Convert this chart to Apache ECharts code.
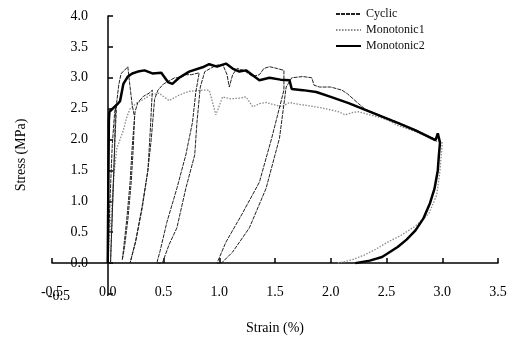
<!DOCTYPE html>
<html>
<head>
<meta charset="utf-8">
<script src="https://cdn.jsdelivr.net/npm/echarts@6/dist/echarts.min.js"></script>
<style>
  html, body { margin: 0; padding: 0; background: #fff; }
  #chart { width: 513px; height: 343px; }
</style>
</head>
<body>
<div id="chart"></div>
<script>
// Tick labels
var xTicks = [-0.5, 0, 0.5, 1, 1.5, 2, 2.5, 3, 3.5];
var yTicks = [-0.5, 0, 0.5, 1, 1.5, 2, 2.5, 3, 3.5, 4];

var seriesNames = ['Cyclic', 'Monotonic1', 'Monotonic2'];

// Cyclic test (strain %, stress MPa)
var cyclicStrain = [0, 0.02, 0.04, 0.06, 0.07, 0.06, 0.045, 0.03, 0.025,
  0.035, 0.05, 0.065, 0.08, 0.1, 0.12, 0.15, 0.18, 0.2, 0.22, 0.24,
  0.23, 0.21, 0.18, 0.15, 0.13,
  0.14, 0.17, 0.2, 0.22, 0.245, 0.27, 0.32, 0.37, 0.4,
  0.38, 0.36, 0.31, 0.25, 0.2,
  0.25, 0.31, 0.36, 0.39, 0.42, 0.45, 0.5, 0.55, 0.6, 0.65, 0.7, 0.75, 0.82,
  0.79, 0.76, 0.7, 0.62, 0.53, 0.47, 0.44,
  0.49, 0.55, 0.62, 0.7, 0.78, 0.8, 0.83, 0.87, 0.92, 0.97, 1.03, 1.07, 1.09, 1.12, 1.16, 1.22, 1.3, 1.36, 1.4, 1.45, 1.52, 1.58,
  1.58, 1.47, 1.36, 1.2, 1.06, 0.98,
  1.02, 1.12, 1.27, 1.42, 1.54, 1.6, 1.65, 1.75, 1.83, 1.85, 1.9, 2.0, 2.1, 2.15, 2.25,
  2.31, 2.46, 2.6, 2.76, 2.94];
var cyclicStress = [0, 1.0, 1.9, 2.4, 2.55, 1.8, 1.0, 0.3, 0,
  0.5, 1.3, 2.0, 2.6, 2.9, 3.07, 3.12, 3.18, 2.85, 2.55, 2.37,
  1.9, 1.3, 0.7, 0.25, 0.05,
  0.2, 0.7, 1.3, 1.9, 2.45, 2.6, 2.7, 2.75, 2.8,
  2.1, 1.5, 0.9, 0.35, 0,
  0.35, 0.94, 1.5, 2.0, 2.65, 2.8, 2.9, 2.95, 3.0, 3.0, 3.05, 3.05, 3.08,
  2.77, 2.28, 1.75, 1.21, 0.66, 0.2, 0,
  0, 0.3, 0.57, 1.21, 1.75, 2.28, 2.85, 3.1, 3.15, 3.2, 3.22, 3.05, 2.85, 3.05, 3.15, 3.12, 3.02, 3.05, 3.15, 3.18, 3.15, 3.12,
  2.8, 2.02, 1.31, 0.78, 0.34, 0,
  0, 0.18, 0.57, 1.21, 2.02, 2.85, 3.0, 3.02, 3.0, 2.88, 2.85, 2.85, 2.8, 2.74, 2.58,
  2.49, 2.38, 2.28, 2.16, 2.0];

// Monotonic test 1
var mono1Strain = [0, 0.03, 0.06, 0.08, 0.1, 0.12, 0.14, 0.17, 0.2, 0.26, 0.32, 0.38, 0.46, 0.55, 0.64, 0.73, 0.85, 0.91,
  0.97, 1.03, 1.1, 1.18, 1.24, 1.3, 1.36, 1.42, 1.5, 1.56, 1.63, 1.71, 1.8, 1.9, 2.0, 2.07, 2.13, 2.2, 2.25, 2.35, 2.46,
  2.53, 2.6, 2.68, 2.76, 2.85, 2.94, 3.0,
  2.98, 2.95, 2.88, 2.76, 2.63, 2.5, 2.4, 2.3, 2.2, 2.12, 2.05];
var mono1Stress = [0, 0.8, 1.5, 1.85, 1.95, 2.05, 2.15, 2.36, 2.5, 2.59, 2.65, 2.72, 2.75, 2.63, 2.72, 2.78, 2.8, 2.8,
  2.4, 2.69, 2.66, 2.67, 2.69, 2.53, 2.58, 2.6, 2.56, 2.53, 2.6, 2.57, 2.55, 2.52, 2.48, 2.45, 2.4, 2.44, 2.45, 2.4, 2.35,
  2.3, 2.23, 2.18, 2.13, 2.06, 1.97, 1.95,
  1.5, 1.1, 0.8, 0.6, 0.45, 0.33, 0.22, 0.13, 0.06, 0.02, 0];

// Monotonic test 2
var mono2Strain = [0, 0.005, 0.01, 0.015, 0.03, 0.06, 0.09, 0.11, 0.14, 0.18, 0.22, 0.27, 0.33, 0.4, 0.48, 0.54, 0.58, 0.64,
  0.73, 0.85, 0.91, 0.98, 1.06, 1.12, 1.18, 1.24, 1.3, 1.36, 1.45, 1.55, 1.63, 1.65, 1.75, 1.87, 2.0, 2.16, 2.31, 2.46,
  2.6, 2.76, 2.94, 2.96, 2.98,
  2.97, 2.96, 2.93, 2.89, 2.83, 2.76, 2.68, 2.6, 2.46, 2.35, 2.22];
var mono2Stress = [0, 1.2, 2.3, 2.45, 2.42, 2.53, 2.58, 2.62, 2.9, 3.02, 3.07, 3.1, 3.12, 3.07, 3.08, 2.93, 2.9, 3.0,
  3.1, 3.17, 3.22, 3.18, 3.23, 3.15, 3.1, 3.12, 3.04, 2.96, 3.0, 2.97, 2.96, 2.82, 2.8, 2.77, 2.69, 2.59, 2.48, 2.37,
  2.27, 2.15, 1.99, 2.1, 1.95,
  1.75, 1.5, 1.2, 0.97, 0.72, 0.53, 0.38, 0.26, 0.1, 0.04, 0];

function zip(xs, ys) {
  var out = [];
  for (var i = 0; i < xs.length; i++) out.push([xs[i], ys[i]]);
  return out;
}

var font = 'Liberation Serif';

var option = {
  animation: false,
  textStyle: { fontFamily: font, color: '#000' },

  grid: { left: 52, right: 15, top: 16, bottom: 49, containLabel: false, outerBoundsMode: 'none' },

  legend: {
    data: seriesNames,
    orient: 'vertical',
    left: 330,
    top: 3,
    itemWidth: 25,
    itemHeight: 10,
    itemGap: 4,
    itemStyle: { opacity: 0 },
    textStyle: { fontFamily: font, fontSize: 12, color: '#111' }
  },

  // axes cross at the origin: shift them inwards by half a step
  xAxis: {
    type: 'value',
    min: xTicks[0],
    max: xTicks[xTicks.length - 1],
    interval: 0.5,
    offset: -31,
    name: 'Strain (%)',
    nameLocation: 'middle',
    nameGap: 58,
    nameTextStyle: { fontFamily: font, fontSize: 14, color: '#000' },
    axisLine: { onZero: false, lineStyle: { color: '#000', width: 1.5 } },
    axisTick: { inside: true, length: 5, lineStyle: { color: '#000', width: 1.5 } },
    axisLabel: {
      margin: 22,
      fontFamily: font,
      fontSize: 14,
      color: '#000',
      formatter: function (v) { return v.toFixed(1); }
    },
    splitLine: { show: false }
  },

  yAxis: {
    type: 'value',
    min: yTicks[0],
    max: yTicks[yTicks.length - 1],
    interval: 0.5,
    offset: -56,
    name: 'Stress (MPa)',
    nameLocation: 'middle',
    nameGap: 80,
    nameRotate: 90,
    nameTextStyle: { fontFamily: font, fontSize: 14, color: '#000' },
    axisLine: { onZero: false, lineStyle: { color: '#000', width: 1.5 } },
    axisTick: { inside: true, length: 5, lineStyle: { color: '#000', width: 1.5 } },
    axisLabel: {
      margin: 20,
      fontFamily: font,
      fontSize: 14,
      color: '#000',
      formatter: function (v) {
        if (v === -0.5) return '{low|' + v.toFixed(1) + '}';
        return v.toFixed(1);
      },
      rich: {
        low: { fontFamily: font, fontSize: 14, color: '#000', padding: [4, 18, 0, 0] }
      }
    },
    splitLine: { show: false }
  },

  series: [
    {
      name: seriesNames[0],
      type: 'line',
      symbol: 'none',
      data: zip(cyclicStrain, cyclicStress),
      lineStyle: { color: '#222', width: 1, type: [4, 1] },
      itemStyle: { color: '#222' },
      z: 3
    },
    {
      name: seriesNames[1],
      type: 'line',
      symbol: 'none',
      data: zip(mono1Strain, mono1Stress),
      lineStyle: { color: '#8a8a8a', width: 1.3, type: [1.5, 1.5] },
      itemStyle: { color: '#8a8a8a' },
      z: 2
    },
    {
      name: seriesNames[2],
      type: 'line',
      symbol: 'none',
      data: zip(mono2Strain, mono2Stress),
      lineStyle: { color: '#000', width: 2.5 },
      itemStyle: { color: '#000' },
      z: 4
    }
  ]
};

var chart = echarts.init(document.getElementById('chart'));
chart.setOption(option);
</script>
</body>
</html>
